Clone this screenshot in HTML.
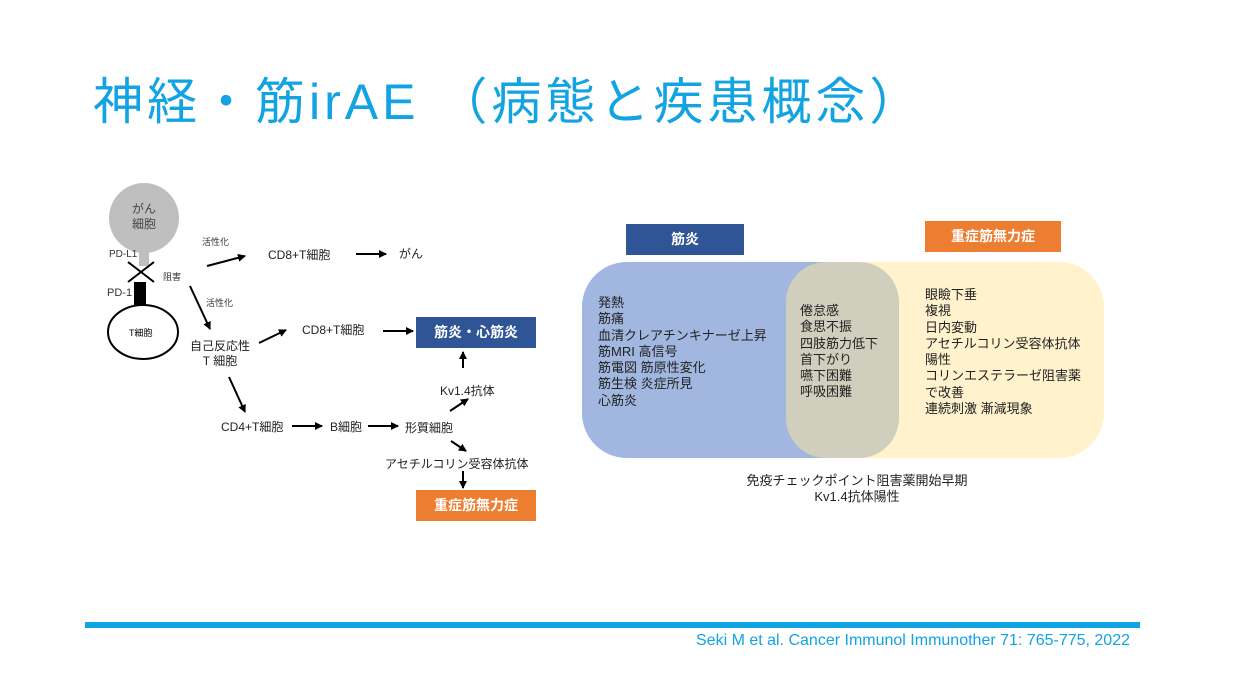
<!DOCTYPE html>
<html><head><meta charset="utf-8"><style>
body{margin:0;width:1236px;height:695px;background:#fff;position:relative;overflow:hidden;font-family:"Liberation Sans","Noto Sans CJK JP",sans-serif;}
.a{position:absolute;white-space:nowrap;}
.t{font-size:12px;color:#222;}
.s{font-size:9px;color:#333;}
.list{position:absolute;font-size:13px;line-height:16.3px;color:#222;}
</style></head><body>
<div class="a" style="left:93px;top:62px;font-size:50px;color:#12a3e3;letter-spacing:4px">神経・筋irAE （病態と疾患概念）</div>

<svg class="a" style="left:0;top:0" width="1236" height="695">
<defs><marker id="ar" markerWidth="8" markerHeight="8" refX="7" refY="4" orient="auto" markerUnits="userSpaceOnUse"><path d="M0,0 L8,4 L0,8z" fill="#000"/></marker></defs>
<circle cx="144" cy="218" r="35" fill="#bfbfbf"/>
<rect x="139" y="250" width="10" height="16" fill="#bfbfbf"/>
<rect x="134" y="282" width="12" height="24" fill="#000"/>
<ellipse cx="143" cy="332" rx="35" ry="27" fill="#fff" stroke="#000" stroke-width="2"/>
<line x1="128" y1="262" x2="154" y2="282" stroke="#000" stroke-width="2"/>
<line x1="128" y1="282" x2="154" y2="262" stroke="#000" stroke-width="2"/>
<g stroke="#000" stroke-width="2" marker-end="url(#ar)">
<line x1="207" y1="266" x2="245" y2="256"/>
<line x1="190" y1="286" x2="210" y2="329"/>
<line x1="356" y1="254" x2="386" y2="254"/>
<line x1="259" y1="343" x2="286" y2="330"/>
<line x1="383" y1="331" x2="413" y2="331"/>
<line x1="463" y1="368" x2="463" y2="352"/>
<line x1="450" y1="411" x2="468" y2="399"/>
<line x1="229" y1="377" x2="245" y2="412"/>
<line x1="292" y1="426" x2="322" y2="426"/>
<line x1="368" y1="426" x2="398" y2="426"/>
<line x1="451" y1="441" x2="466" y2="451"/>
<line x1="463" y1="471" x2="463" y2="488"/>
</g>
<rect x="582" y="262" width="317" height="196" rx="45" fill="#a1b7df"/>
<rect x="786" y="262" width="318" height="196" rx="45" fill="#fff2cc"/>
<rect x="786" y="262" width="113" height="196" rx="40" fill="#d0cfbd"/>
<rect x="85" y="622" width="1055" height="6" fill="#12a3e3"/>
</svg>

<div class="a" style="left:124px;top:202px;font-size:12px;color:#444;text-align:center;line-height:15px;width:40px">がん<br>細胞</div>
<div class="a s" style="left:109px;top:249px;font-size:10px">PD-L1</div>
<div class="a s" style="left:107px;top:287px;font-size:11px">PD-1</div>
<div class="a s" style="left:163px;top:270px">阻害</div>
<div class="a s" style="left:202px;top:235px">活性化</div>
<div class="a s" style="left:206px;top:296px">活性化</div>
<div class="a s" style="left:129px;top:326px;font-size:9px;color:#000">T細胞</div>
<div class="a t" style="left:268px;top:246px">CD8+T細胞</div>
<div class="a t" style="left:399px;top:245px">がん</div>
<div class="a t" style="left:188px;top:339px;text-align:center;line-height:15px;width:64px">自己反応性<br>T 細胞</div>
<div class="a t" style="left:302px;top:321px">CD8+T細胞</div>
<div class="a" style="left:416px;top:317px;width:120px;height:31px;background:#2f5597;color:#fff;font-weight:bold;font-size:14px;line-height:31px;text-align:center">筋炎・心筋炎</div>
<div class="a t" style="left:440px;top:382px">Kv1.4抗体</div>
<div class="a t" style="left:221px;top:418px">CD4+T細胞</div>
<div class="a t" style="left:330px;top:418px">B細胞</div>
<div class="a t" style="left:405px;top:419px">形質細胞</div>
<div class="a t" style="left:385px;top:455px">アセチルコリン受容体抗体</div>
<div class="a" style="left:416px;top:490px;width:120px;height:31px;background:#ed7d31;color:#fff;font-weight:bold;font-size:14px;line-height:31px;text-align:center">重症筋無力症</div>

<div class="a" style="left:626px;top:224px;width:118px;height:31px;background:#2f5597;color:#fff;font-weight:bold;font-size:14px;line-height:31px;text-align:center">筋炎</div>
<div class="a" style="left:925px;top:221px;width:136px;height:31px;background:#ed7d31;color:#fff;font-weight:bold;font-size:14px;line-height:30px;text-align:center">重症筋無力症</div>

<div class="list" style="left:598px;top:295px">発熱<br>筋痛<br>血清クレアチンキナーゼ上昇<br>筋MRI 高信号<br>筋電図 筋原性変化<br>筋生検 炎症所見<br>心筋炎</div>
<div class="list" style="left:800px;top:303px">倦怠感<br>食思不振<br>四肢筋力低下<br>首下がり<br>嚥下困難<br>呼吸困難</div>
<div class="list" style="left:925px;top:287px">眼瞼下垂<br>複視<br>日内変動<br>アセチルコリン受容体抗体<br>陽性<br>コリンエステラーゼ阻害薬<br>で改善<br>連続刺激 漸減現象</div>

<div class="a" style="left:700px;top:473px;width:314px;text-align:center;font-size:13px;line-height:16px;color:#222">免疫チェックポイント阻害薬開始早期<br>Kv1.4抗体陽性</div>

<div class="a" style="right:106px;top:632px;font-size:16px;color:#12a3e3">Seki M et al. Cancer Immunol Immunother 71: 765-775, 2022</div>
</body></html>
